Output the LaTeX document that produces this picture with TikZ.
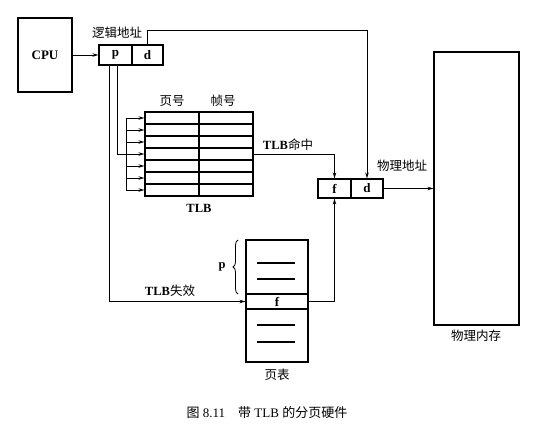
\documentclass[tikz,border=0pt]{standalone}
\usepackage{fontspec}
\setmainfont{Liberation Serif}
\newfontfamily\cjk{Noto Sans CJK SC}
\newcommand\zhtext[1]{{\cjk\mdseries #1}}
\usetikzlibrary{arrows.meta,decorations.pathreplacing,calc}
\begin{document}
\begin{tikzpicture}[x=1pt,y=-1pt]
\tikzset{
 bx/.style={draw,line width=1.2pt,inner sep=0pt,font=\fontsize{13}{13}\selectfont\bfseries},
 ln/.style={line width=0.8pt},
 arr/.style={ln,-{Stealth[length=6pt,width=3.5pt]}},
 lbl/.style={inner sep=0pt,font=\fontsize{12.5}{12.5}\selectfont\bfseries},
 inner line/.style={line width=1.2pt},
}
\useasboundingbox[fill=white] (0,0) rectangle (552,435);
% CPU and logical address
\node[bx,minimum width=54pt,minimum height=74pt] (cpu) at (45,55) {CPU};
\node[bx,minimum width=33pt,minimum height=20pt] (lp) at (115.5,55) {p};
\node[bx,minimum width=31pt,minimum height=20pt] (ld) at (147.5,55) {d};
\node[lbl] (lalbl) at (117,33) {\zhtext{逻辑地址}};
% TLB
\foreach \i in {1,...,7}{
  \node[bx,minimum width=54pt,minimum height=12pt] (tl\i) at (172,106+12*\i) {};
  \node[bx,minimum width=54pt,minimum height=12pt] (tr\i) at (226,106+12*\i) {};
  \coordinate (b\i) at (126,106+12*\i);
  \draw[arr] (b\i) -- (tl\i.west);
}
\draw[ln] (b1) -- (b7);
\node[lbl] (hpage) at (172,101) {\zhtext{页号}};
\node[lbl] (hframe) at (223,101) {\zhtext{帧号}};
\node[lbl] (tlblbl) at (199,208) {TLB};
% page table
\node[bx,minimum width=62pt,minimum height=54pt] (pt1) at (277,267) {};
\node[bx,minimum width=62pt,minimum height=15pt] (ptf) at (277,301.5) {f};
\node[bx,minimum width=62pt,minimum height=53pt] (pt2) at (277,335.5) {};
\draw[inner line] (257,263) -- (295,263);
\draw[inner line] (257,279) -- (295,279);
\draw[inner line] (257,325) -- (295,325);
\draw[inner line] (257,342) -- (295,342);
\draw[ln,decorate,decoration={brace,amplitude=5pt}] (238,294) -- (238,240);
\node[lbl] (plbl) at (222,267) {p};
\node[lbl] (ptlbl) at (277,375) {\zhtext{页表}};
% physical address and memory
\node[bx,minimum width=33pt,minimum height=19pt] (pf) at (334.5,188.5) {f};
\node[bx,minimum width=32pt,minimum height=19pt] (pd) at (367,188.5) {d};
\node[bx,minimum width=85pt,minimum height=273pt] (mem) at (476.5,188.5) {};
\node[lbl] (palbl) at (402,166) {\zhtext{物理地址}};
\node[lbl] (memlbl) at (476,336) {\zhtext{物理内存}};
% connectors
\coordinate (t1) at (367,30);
\draw[arr] (cpu.east) -- (lp.west);
\draw[arr] (ld.north) |- (t1) -- (pd.north);
\draw[ln] ([xshift=1.5pt]lp.south) |- (b4);
\draw[arr] ([xshift=-6.5pt]lp.south) |- (ptf.west);
\draw[arr] (tr4.east) -| (pf.north);
\draw[arr] (ptf.east) -| (pf.south);
\draw[arr] (pd.east) -- (mem.west);
\node[lbl] (hitlbl) at (288,145) {TLB\zhtext{命中}};
\node[lbl] (misslbl) at (170,291) {TLB\zhtext{失效}};
% caption
\node[inner sep=0pt,font=\fontsize{13}{13}\selectfont] (cap) at (267,413) {\zhtext{图} 8.11\quad\zhtext{带} TLB \zhtext{的分页硬件}};
\end{tikzpicture}
\end{document}
